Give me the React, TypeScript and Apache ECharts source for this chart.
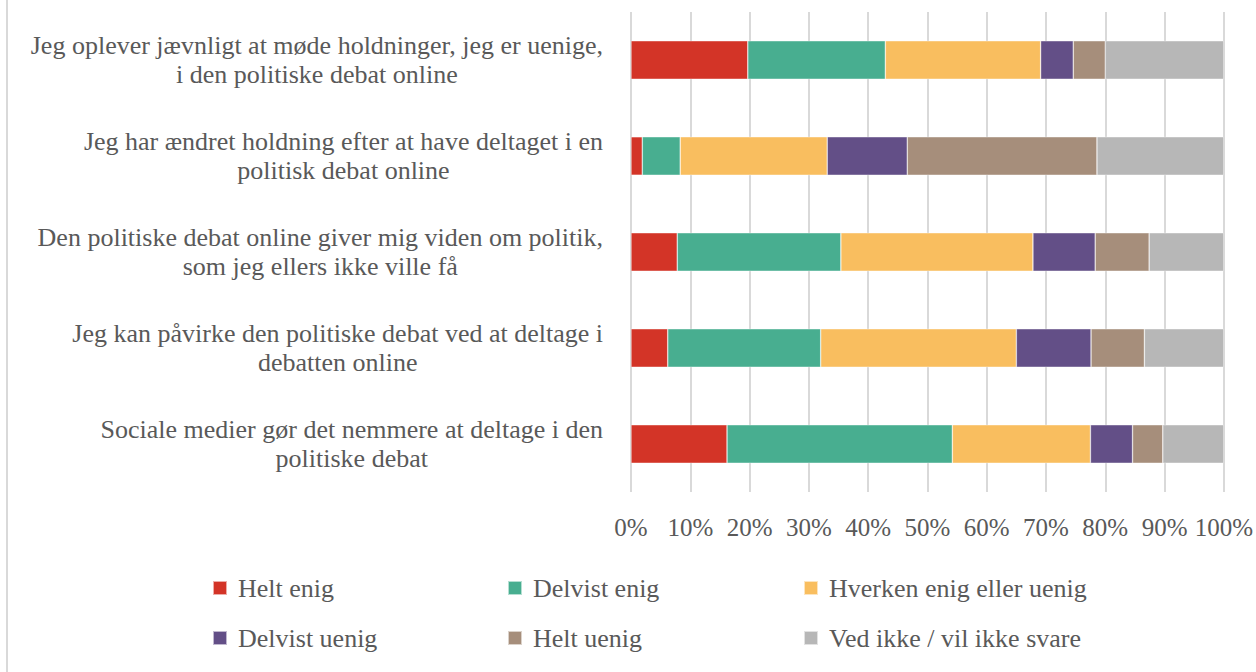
import React, { useEffect, useRef } from "react";
import * as echarts from "echarts";

const categories = [
  "Jeg oplever jævnligt at møde holdninger, jeg er uenige,\ni den politiske debat online",
  "Jeg har ændret holdning efter at have deltaget i en\npolitisk debat online",
  "Den politiske debat online giver mig viden om politik,\nsom jeg ellers ikke ville få",
  "Jeg kan påvirke den politiske debat ved at deltage i\ndebatten online",
  "Sociale medier gør det nemmere at deltage i den\npolitiske debat",
];

const seriesNames = [
  "Helt enig",
  "Delvist enig",
  "Hverken enig eller uenig",
  "Delvist uenig",
  "Helt uenig",
  "Ved ikke / vil ikke svare",
];

const heltEnig = [19.7, 1.9, 7.8, 6.2, 16.2];
const delvistEnig = [23.2, 6.4, 27.6, 25.8, 38.0];
const hverken = [26.2, 24.8, 32.4, 33.0, 23.3];
const delvistUenig = [5.5, 13.5, 10.5, 12.6, 7.1];
const heltUenig = [5.4, 32.0, 9.1, 9.0, 5.1];
const vedIkke = [20.0, 21.4, 12.6, 13.4, 10.3];

const xTicks = [0, 10, 20, 30, 40, 50, 60, 70, 80, 90, 100];

const colors = ["#D33427", "#48AE90", "#F9BE5F", "#634F87", "#A68E7B", "#B7B7B7"];

const FONT = "'Liberation Serif', serif";
const TEXT = "#595959";

export default function App() {
  const ref = useRef<HTMLDivElement>(null);
  useEffect(() => {
    if (!ref.current) return;
    const chart = echarts.init(ref.current, undefined, { renderer: "svg" });
    const values = [heltEnig, delvistEnig, hverken, delvistUenig, heltUenig, vedIkke];
    const legendCol = (items: string[], left: number) => ({
      data: items,
      orient: "vertical" as const,
      left,
      top: 575,
      padding: 0,
      itemWidth: 14,
      itemHeight: 14,
      itemGap: 24,
      icon: "rect",
      textStyle: { fontFamily: FONT, fontSize: 26, color: TEXT, padding: [0, 0, 0, 6] },
    });
    chart.setOption({
      animation: false,
      backgroundColor: "#ffffff",
      color: colors,
      textStyle: { fontFamily: FONT },
      grid: { left: 631, right: 31, top: 12, height: 480, containLabel: false },
      xAxis: {
        type: "value",
        min: xTicks[0],
        max: xTicks[xTicks.length - 1],
        interval: 10,
        axisLine: { show: false },
        axisTick: { show: false },
        splitLine: { show: true, lineStyle: { color: "#D9D9D9", width: 2 } },
        axisLabel: {
          formatter: "{value}%",
          fontFamily: FONT,
          fontSize: 25,
          color: TEXT,
          margin: 23,
        },
      },
      yAxis: {
        type: "category",
        data: categories,
        inverse: true,
        axisLine: { show: false },
        axisTick: { show: false },
        splitLine: { show: false },
        axisLabel: {
          margin: 28,
          align: "right",
          fontFamily: FONT,
          fontSize: 26,
          color: TEXT,
          lineHeight: 29,
          formatter: (v: string) =>
            v
              .split("\n")
              .map((l) => `{c|${l}}`)
              .join("\n"),
          rich: {
            c: {
              align: "center",
              fontFamily: FONT,
              fontSize: 26,
              color: TEXT,
              lineHeight: 29,
            },
          },
        },
      },
      legend: [
        legendCol([seriesNames[0], seriesNames[3]], 212),
        legendCol([seriesNames[1], seriesNames[4]], 507),
        legendCol([seriesNames[2], seriesNames[5]], 803),
      ],
      graphic: [
        {
          type: "line",
          shape: { x1: 7, y1: 0, x2: 7, y2: 672 },
          style: { stroke: "#D9D9D9", lineWidth: 2 },
          silent: true,
        },
      ],
      series: seriesNames.map((name, i) => ({
        name,
        type: "bar",
        stack: "total",
        barWidth: "40%",
        data: values[i],
        itemStyle: { color: colors[i], borderColor: "rgba(255,255,255,0.6)", borderWidth: 0.6 },
      })),
    });
    return () => chart.dispose();
  }, []);
  return (
    <div
      ref={ref}
      style={{ position: "absolute", left: 0, top: 0, width: 1256, height: 672, background: "#fff" }}
    />
  );
}
